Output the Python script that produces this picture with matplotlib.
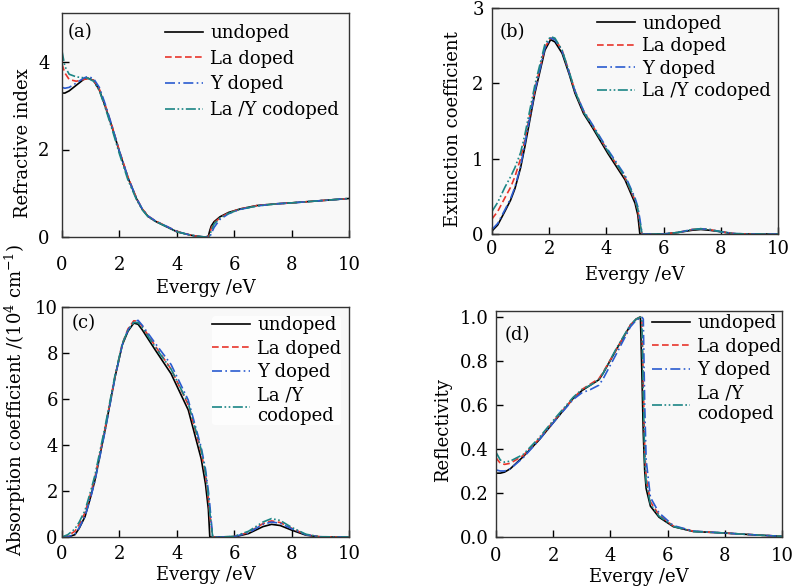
import numpy as np
import matplotlib
matplotlib.use('Agg')
from matplotlib import pyplot as plt

plt.rcParams['font.family'] = ['DejaVu Serif']
plt.rcParams['font.size'] = 12
plt.rcParams['mathtext.fontset'] = 'dejavuserif'

labels = ['undoped', 'La doped', 'Y doped', 'La /Y codoped']
labels2 = ['undoped', 'La doped', 'Y doped', 'La /Y\ncodoped']

# (a) refractive index
xa = [0, 0.1, 0.25, 0.5, 0.75, 0.9, 1.1, 1.3, 1.5, 1.75, 2.0, 2.3, 2.6, 2.8, 3.0, 3.25, 3.5, 3.75, 4.0,
      4.25, 4.5, 4.8, 5.0, 5.1, 5.15, 5.2, 5.3, 5.5, 5.8, 6.2, 6.8, 7.5, 8.0, 9.0, 10.0]
na_undoped = [3.29, 3.29, 3.34, 3.47, 3.60, 3.63, 3.58, 3.36, 3.00, 2.50, 1.95, 1.35, 0.87, 0.63, 0.47, 0.36,
              0.28, 0.20, 0.12, 0.08, 0.04, 0.01, 0.0, 0.02, 0.15, 0.25, 0.35, 0.46, 0.56, 0.64, 0.72, 0.76,
              0.78, 0.83, 0.88]
na_la = [3.95, 3.75, 3.60, 3.56, 3.60, 3.62, 3.58, 3.38, 3.02, 2.52, 1.97, 1.37, 0.88, 0.64, 0.48, 0.37,
         0.29, 0.21, 0.13, 0.08, 0.04, 0.01, 0.0, 0.0, 0.08, 0.20, 0.32, 0.44, 0.55, 0.64, 0.72, 0.76,
         0.78, 0.83, 0.88]
na_y = [3.42, 3.40, 3.42, 3.52, 3.63, 3.67, 3.62, 3.42, 3.05, 2.52, 1.96, 1.36, 0.88, 0.64, 0.48, 0.37,
        0.29, 0.21, 0.13, 0.08, 0.04, 0.01, 0.0, 0.0, 0.0, 0.08, 0.22, 0.40, 0.53, 0.63, 0.71, 0.76,
        0.78, 0.83, 0.88]
na_lay = [4.25, 3.90, 3.72, 3.66, 3.64, 3.63, 3.56, 3.35, 2.97, 2.45, 1.90, 1.30, 0.85, 0.62, 0.46, 0.36,
          0.28, 0.20, 0.12, 0.08, 0.04, 0.01, 0.0, 0.0, 0.03, 0.15, 0.30, 0.43, 0.54, 0.63, 0.71, 0.76,
          0.78, 0.83, 0.88]

# (b) extinction coefficient
xb = [0, 0.2, 0.45, 0.65, 0.8, 1.0, 1.15, 1.5, 1.85, 2.05, 2.2, 2.45, 2.7, 2.9, 3.2, 3.5, 4.05, 4.65, 5.0,
      5.1, 5.17, 5.25, 5.5, 6.0, 6.5, 7.0, 7.3, 7.6, 8.0, 8.5, 9.0, 10.0]
kb_undoped = [0.04, 0.12, 0.30, 0.45, 0.60, 0.88, 1.16, 1.87, 2.44, 2.58, 2.55, 2.40, 2.12, 1.87, 1.60, 1.42,
              1.07, 0.72, 0.41, 0.25, 0.0, 0.0, 0.0, 0.0, 0.02, 0.05, 0.06, 0.05, 0.03, 0.0, 0.0, 0.0]
kb_la = [0.20, 0.30, 0.48, 0.62, 0.76, 1.00, 1.25, 1.92, 2.48, 2.60, 2.59, 2.44, 2.15, 1.90, 1.63, 1.45,
         1.10, 0.75, 0.45, 0.32, 0.12, 0.0, 0.0, 0.0, 0.02, 0.06, 0.07, 0.06, 0.03, 0.005, 0.0, 0.0]
kb_y = [0.06, 0.14, 0.32, 0.47, 0.62, 0.90, 1.20, 1.90, 2.47, 2.60, 2.58, 2.43, 2.14, 1.90, 1.64, 1.46,
        1.12, 0.78, 0.48, 0.36, 0.20, 0.0, 0.0, 0.0, 0.02, 0.06, 0.07, 0.06, 0.03, 0.005, 0.0, 0.0]
kb_lay = [0.30, 0.42, 0.62, 0.76, 0.88, 1.08, 1.32, 1.98, 2.52, 2.62, 2.60, 2.44, 2.15, 1.90, 1.62, 1.44,
          1.10, 0.76, 0.46, 0.33, 0.15, 0.0, 0.0, 0.0, 0.02, 0.06, 0.07, 0.06, 0.03, 0.005, 0.0, 0.0]

# (c) absorption coefficient (1e4 cm-1)
xc = [0, 0.2, 0.45, 0.6, 0.8, 1.0, 1.15, 1.5, 1.85, 2.1, 2.3, 2.5, 2.65, 2.8, 3.25, 3.8, 4.4, 4.85, 5.0,
      5.1, 5.15, 5.25, 5.5, 6.0, 6.5, 7.0, 7.3, 7.6, 8.0, 8.5, 9.0, 10.0]
ac_undoped = [0, 0.0, 0.10, 0.38, 0.88, 1.75, 2.48, 4.65, 6.97, 8.35, 8.95, 9.30, 9.25, 9.00, 8.13, 7.10,
              5.52, 3.40, 2.30, 1.20, 0.0, 0.0, 0.0, 0.0, 0.15, 0.45, 0.55, 0.50, 0.30, 0.08, 0.0, 0.0]
ac_la = [0, 0.05, 0.25, 0.55, 1.05, 1.90, 2.60, 4.72, 7.00, 8.40, 9.05, 9.40, 9.38, 9.15, 8.30, 7.30,
         5.75, 3.70, 2.70, 1.70, 1.00, 0.0, 0.0, 0.02, 0.20, 0.58, 0.70, 0.63, 0.38, 0.10, 0.01, 0.0]
ac_y = [0, 0.0, 0.12, 0.40, 0.90, 1.72, 2.45, 4.60, 6.95, 8.35, 9.00, 9.35, 9.42, 9.20, 8.42, 7.50,
        5.95, 3.90, 2.95, 2.00, 1.40, 0.0, 0.0, 0.02, 0.18, 0.55, 0.65, 0.60, 0.36, 0.10, 0.01, 0.0]
ac_lay = [0, 0.10, 0.35, 0.65, 1.15, 2.00, 2.70, 4.80, 7.05, 8.40, 9.00, 9.33, 9.32, 9.10, 8.25, 7.30,
          5.80, 3.80, 2.80, 1.80, 1.10, 0.0, 0.0, 0.03, 0.25, 0.65, 0.80, 0.72, 0.42, 0.12, 0.01, 0.0]

# (d) reflectivity
xd = [0, 0.15, 0.3, 0.5, 0.95, 1.5, 2.1, 2.7, 3.0, 3.3, 3.6, 3.75, 4.2, 4.7, 4.9, 5.05, 5.1, 5.15, 5.2,
      5.25, 5.4, 5.7, 6.2, 6.9, 8.0, 9.0, 10.0]
rd_undoped = [0.290, 0.290, 0.295, 0.310, 0.365, 0.440, 0.535, 0.630, 0.665, 0.690, 0.715, 0.745, 0.850,
              0.962, 0.990, 1.000, 0.750, 0.470, 0.300, 0.220, 0.140, 0.090, 0.047, 0.025, 0.018, 0.010, 0.003]
rd_la = [0.360, 0.335, 0.330, 0.335, 0.370, 0.445, 0.540, 0.630, 0.670, 0.695, 0.720, 0.750, 0.850,
         0.962, 0.990, 1.000, 0.990, 0.700, 0.400, 0.270, 0.160, 0.100, 0.050, 0.026, 0.018, 0.010, 0.003]
rd_y = [0.305, 0.300, 0.300, 0.310, 0.360, 0.440, 0.535, 0.625, 0.655, 0.670, 0.690, 0.720, 0.830,
        0.955, 0.985, 0.995, 1.000, 0.990, 0.600, 0.350, 0.180, 0.110, 0.052, 0.027, 0.018, 0.010, 0.003]
rd_lay = [0.385, 0.350, 0.340, 0.345, 0.375, 0.450, 0.545, 0.635, 0.670, 0.690, 0.715, 0.745, 0.855,
          0.965, 0.990, 1.000, 0.980, 0.650, 0.350, 0.250, 0.150, 0.095, 0.048, 0.025, 0.018, 0.010, 0.003]

colors = ['black', '#e8352b', '#2a5bd0', '#1b8585']
styles = ['-', (0, (4, 2)), (0, (6, 2, 1, 2)), (0, (6, 1.5, 1, 1.5, 1, 1.5))]

fig = plt.figure(figsize=(7.99, 5.86), dpi=100)

panels = [
    # rect, x, ys, ylim, yticks, ylabel, label coords, legend anchor, tag, tag pos, legend labels,
    # legend spacing, x tick pad, y tick pad, xlabel pad
    ([62/799, 1-237/586, 287/799, 224/586], xa, [na_undoped, na_la, na_y, na_lay], (0, 5.12), [0, 2, 4],
     'Refractive index', (-0.105, 0.42), (0.36, 0.95), '(a)', (0.02, 0.915), labels, 0.42, 14, 9, 3),
    ([492/799, 1-234/586, 286/799, 226/586], xb, [kb_undoped, kb_la, kb_y, kb_lay], (0, 3), [0, 1, 2, 3],
     'Extinction coefficient', (-0.105, 0.465), (0.367, 0.97), '(b)', (0.028, 0.894), labels, 0.25, 4, 6, 6),
    ([62/799, 1-537/586, 287/799, 230/586], xc, [ac_undoped, ac_la, ac_y, ac_lay], (0, 10), [0, 2, 4, 6, 8, 10],
     'Absorption coefficient /(10$^{4}$ cm$^{-1}$)', (-0.118, 0.596), (0.523, 0.96), '(c)', (0.035, 0.93),
     labels2, 0.3, 6, 3, 2),
    ([496/799, 1-537/586, 286/799, 226/586], xd, [rd_undoped, rd_la, rd_y, rd_lay], (0, 1.027),
     [0.0, 0.2, 0.4, 0.6, 0.8, 1.0],
     'Reflectivity', (-0.154, 0.473), (0.545, 0.985), '(d)', (0.031, 0.894), labels2, 0.3, 7, 5, 2),
]

for i, (rect, x, ys, ylim, yticks, ylab, lc, lanchor, tag, tpos, labs, lsp, xpad, ypad, lpad) in enumerate(panels):
    ax = fig.add_axes(rect)
    ax.set_facecolor('#f8f8f8')
    for y, c, ls, lab in zip(ys, colors, styles, labs):
        ax.plot(x, y, color=c, linestyle=ls, lw=1.2, label=lab)
    ax.set_xlim(0, 10)
    ax.set_ylim(*ylim)
    ax.set_xticks([0, 2, 4, 6, 8, 10])
    ax.set_yticks(yticks)
    if i == 3:
        ax.set_yticklabels(['%.1f' % t for t in yticks])
    ax.tick_params(direction='in', length=5, width=1, top=False, right=False, labelsize=13)
    ax.tick_params(axis='x', pad=xpad)
    ax.tick_params(axis='y', pad=ypad)
    for s in ax.spines.values():
        s.set_linewidth(1.0)
        s.set_color('#333333')
    ax.set_xlabel('Evergy /eV', fontsize=13, labelpad=lpad)
    ax.set_ylabel(ylab, fontsize=13)
    ax.yaxis.set_label_coords(*lc)
    ax.text(tpos[0], tpos[1], tag, transform=ax.transAxes, fontsize=13, va='center', ha='left')
    leg = ax.legend(loc='upper left', bbox_to_anchor=lanchor, frameon=(i == 2), fontsize=13,
                    handlelength=2.1, handletextpad=0.4, labelspacing=lsp, borderpad=0,
                    borderaxespad=0)
    if i == 2:
        leg.get_frame().set_facecolor('white')
        leg.get_frame().set_edgecolor('none')

fig.savefig('out.png', dpi=100)
